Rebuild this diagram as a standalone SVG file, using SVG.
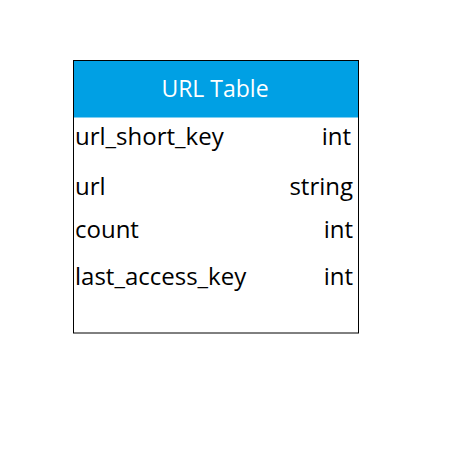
<svg xmlns="http://www.w3.org/2000/svg" width="462" height="470" viewBox="0 0 462 470">
<style>
.f{font-family:"Open Sans","Noto Sans","Liberation Sans",sans-serif;font-size:24px;fill:#000}
.r{text-anchor:end}
.h{font-family:"Open Sans","Noto Sans","Liberation Sans",sans-serif;font-size:23px;fill:#fff;text-anchor:middle}
</style>
<rect width="462" height="470" fill="#fff"/>
<g id="url-table">
<rect x="73.5" y="60.5" width="285" height="272.5" fill="#fff" stroke="#000" stroke-width="1"/>
<rect x="74" y="61" width="284" height="56.5" fill="#00A0E4"/>
<text class="h" x="215" y="97">URL Table</text>
<text class="f" x="75" y="145">url_short_key</text>
<text class="f r" x="351" y="145">int</text>
<text class="f" x="75" y="195">url</text>
<text class="f r" x="353" y="195">string</text>
<text class="f" x="75" y="238">count</text>
<text class="f r" x="353" y="238">int</text>
<text class="f" x="75" y="285">last_access_key</text>
<text class="f r" x="353" y="285">int</text>
</g>
<g id="connectors"/>
</svg>
